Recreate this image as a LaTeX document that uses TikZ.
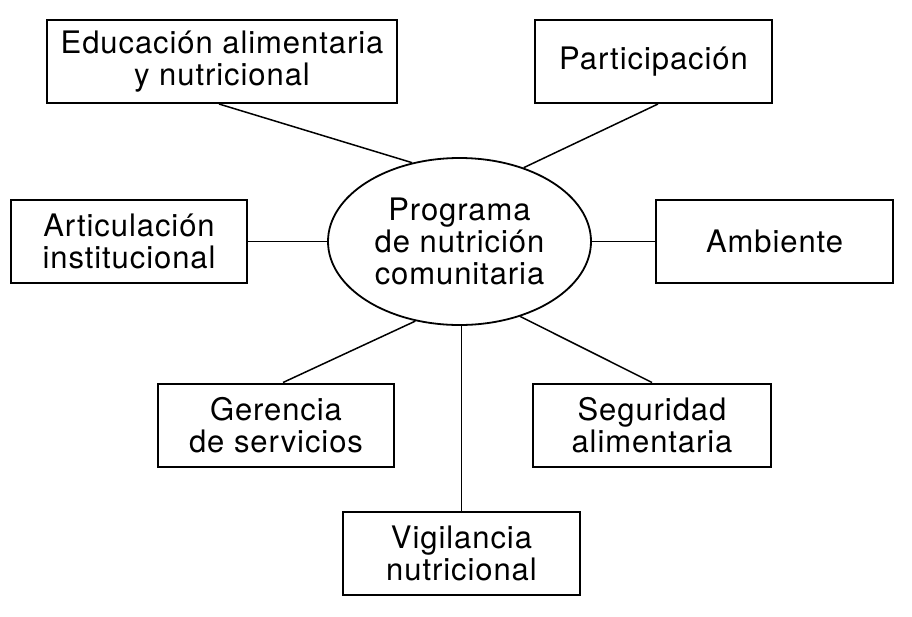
\documentclass[tikz,border=0pt]{standalone}
\usepackage{fontspec}
\setmainfont{TeX Gyre Heros}[LetterSpace=3]
\usetikzlibrary{shapes.geometric}
\begin{document}
\begin{tikzpicture}[x=1pt,y=-1pt,
  txt/.style={align=center, font=\fontsize{31}{32}\selectfont, inner sep=0pt},
  box/.style={txt, draw, line width=2pt, minimum width=236pt, minimum height=83pt},
  conn/.style={line width=1.5pt}]
\useasboundingbox (0,0) rectangle (912,616);
\node[box, minimum width=350pt] (edu) at (222,61.5) {Educación alimentaria\\y nutricional};
\node[box, minimum width=237pt] (par) at (653.5,61.5) {Participación};
\node[box] (art) at (129,241.5) {Articulación\\institucional};
\node[box, minimum width=237pt] (amb) at (774.5,241.5) {Ambiente};
\node[box] (ger) at (276,425) {Gerencia\\de servicios};
\node[box, minimum width=238pt] (seg) at (652,425) {Seguridad\\alimentaria};
\node[box, minimum width=237pt] (vig) at (461.5,553) {Vigilancia\\nutricional};
\node[txt, draw, ellipse, line width=1.8pt, minimum width=263pt, minimum height=167pt] (prog) at (459.5,241.5) {Programa\\de nutrición\\comunitaria};
\draw[conn] ([xshift=-3pt]edu.south) -- (prog.121);
\draw[conn] ([xshift=4.5pt]par.south) -- (prog.49);
\draw[conn] (art.east) -- (prog.west);
\draw[conn] (prog.east) -- (amb.west);
\draw[conn] ([xshift=7pt]ger.north) -- (prog.-119);
\draw[conn] (seg.north) -- (prog.-51);
\draw[conn] (vig.north) -- (vig.north |- prog.south);
\end{tikzpicture}
\end{document}
